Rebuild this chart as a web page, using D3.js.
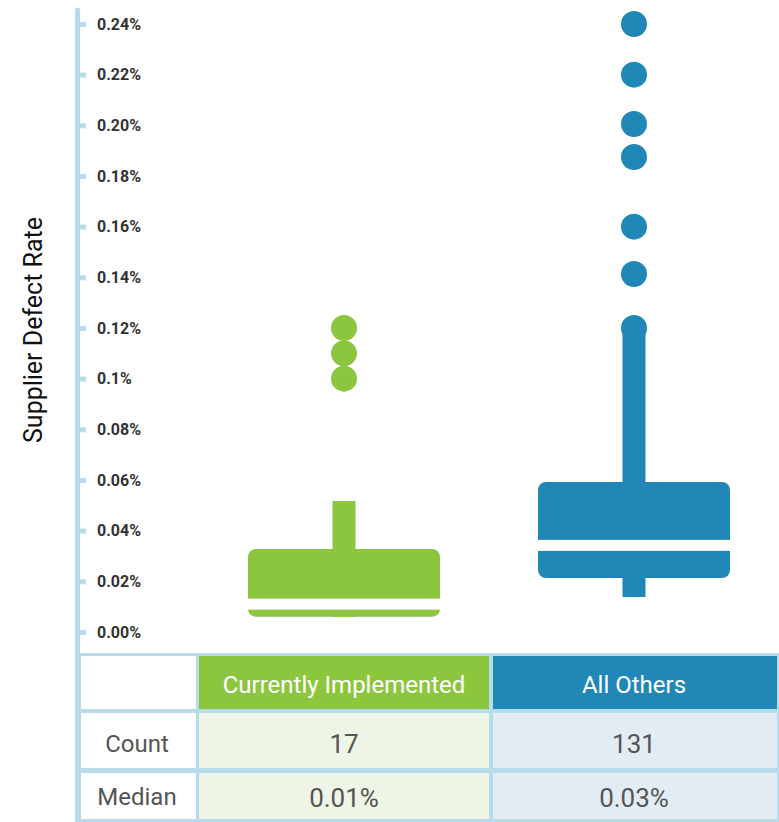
<!DOCTYPE html>
<html>
<head>
<meta charset="utf-8">
<script src="https://cdn.jsdelivr.net/npm/d3@7"></script>
<style>
  body { margin: 0; background: #fff; }
  svg { display: block; }
  .tick text { font-family: Roboto, "Liberation Sans", sans-serif; font-weight: bold; font-size: 16px; fill: #333; }
</style>
</head>
<body>
<svg id="chart" width="779" height="822"></svg>
<script>
// data (values in percent)
var categories = ["Currently Implemented", "All Others"];
var colors = ["#8cc63f", "#2087b7"];
var lightColors = ["#eef4e6", "#e3ebf3"];
var counts = ["17", "131"];
var medianLabels = ["0.01%", "0.03%"];
var whiskerLow = [0.006, 0.0138];
var q1 = [0.006, 0.0213];
var median = [0.011, 0.0342];
var q3 = [0.0328, 0.0592];
var whiskerHigh = [0.0517, 0.12];
var outliers = [
  [0.12, 0.11, 0.10],
  [0.24, 0.22, 0.2005, 0.1875, 0.160, 0.1413, 0.12]
];
var tickValues = [0, 0.02, 0.04, 0.06, 0.08, 0.10, 0.12, 0.14, 0.16, 0.18, 0.20, 0.22, 0.24];
var tickLabels = ["0.00%", "0.02%", "0.04%", "0.06%", "0.08%", "0.1%", "0.12%", "0.14%", "0.16%", "0.18%", "0.20%", "0.22%", "0.24%"];
var rowLabels = ["Count", "Median"];

var gridColor = "#b6dbea";
var svg = d3.select("#chart");

var y = d3.scaleLinear()
    .domain([0, 0.24])
    .range([632, 24]);

var x = d3.scaleBand()
    .domain(categories)
    .range([199, 779]);

// table
var tableTop = 653;
svg.append("rect")
    .attr("x", 78).attr("y", tableTop)
    .attr("width", 701).attr("height", 822 - tableTop)
    .attr("fill", gridColor);

var rows = [[656, 709], [713, 768], [773, 819]];
var firstCol = [81, 196];

rows.forEach(function(r, i) {
  svg.append("rect")
      .attr("x", firstCol[0]).attr("y", r[0])
      .attr("width", firstCol[1] - firstCol[0]).attr("height", r[1] - r[0])
      .attr("fill", "#fff");
  categories.forEach(function(c, j) {
    var x0 = x(c) + (j == 0 ? 0 : 4);
    var x1 = x(c) + x.bandwidth() - (j == 0 ? 0 : 2);
    svg.append("rect")
        .attr("x", x0).attr("y", r[0])
        .attr("width", x1 - x0).attr("height", r[1] - r[0])
        .attr("fill", i == 0 ? colors[j] : lightColors[j]);
  });
});

var cellFont = "Roboto, 'Liberation Sans', sans-serif";

svg.selectAll(".head")
    .data(categories)
  .enter().append("text")
    .attr("class", "head")
    .attr("x", function(d) { return x(d) + x.bandwidth() / 2; })
    .attr("y", 693)
    .attr("text-anchor", "middle")
    .attr("font-family", cellFont)
    .attr("font-size", 24)
    .attr("fill", "#fff")
    .text(function(d) { return d; });

svg.selectAll(".rowlab")
    .data(rowLabels)
  .enter().append("text")
    .attr("class", "rowlab")
    .attr("x", 137)
    .attr("y", function(d, i) { return i == 0 ? 752 : 805; })
    .attr("text-anchor", "middle")
    .attr("font-family", cellFont)
    .attr("font-size", 24)
    .attr("fill", "#555")
    .text(function(d) { return d; });

[counts, medianLabels].forEach(function(vals, i) {
  svg.selectAll(".val" + i)
      .data(vals)
    .enter().append("text")
      .attr("x", function(d, j) { return x(categories[j]) + x.bandwidth() / 2; })
      .attr("y", i == 0 ? 753 : 807)
      .attr("text-anchor", "middle")
      .attr("font-family", cellFont)
      .attr("font-size", 26)
      .attr("fill", "#555")
      .text(function(d) { return d; });
});

// axis
svg.append("line")
    .attr("x1", 77.5).attr("x2", 77.5)
    .attr("y1", 10).attr("y2", 822)
    .attr("stroke", gridColor)
    .attr("stroke-width", 5)
    .attr("stroke-linecap", "round");

var yAxis = d3.axisRight(y)
    .tickValues(tickValues)
    .tickSize(8)
    .tickPadding(11)
    .tickFormat(function(d, i) { return tickLabels[i]; });

var gAxis = svg.append("g")
    .attr("transform", "translate(78,0)")
    .call(yAxis);
gAxis.select(".domain").remove();
gAxis.selectAll(".tick line")
    .attr("stroke", gridColor)
    .attr("stroke-width", 5);

svg.append("text")
    .attr("transform", "translate(42,330) rotate(-90)")
    .attr("text-anchor", "middle")
    .attr("font-family", cellFont)
    .attr("font-size", 25)
    .attr("fill", "#111")
    .text("Supplier Defect Rate");

// boxes
var boxW = 192, whiskW = 23, r = 13;

var box = svg.selectAll(".box")
    .data(categories)
  .enter().append("g")
    .attr("class", "box")
    .attr("transform", function(d) { return "translate(" + (x(d) + x.bandwidth() / 2) + ",0)"; });

box.append("rect")
    .attr("x", -whiskW / 2)
    .attr("width", whiskW)
    .attr("y", function(d, i) { return y(whiskerHigh[i]); })
    .attr("height", function(d, i) { return y(whiskerLow[i]) - y(whiskerHigh[i]); })
    .attr("fill", function(d, i) { return colors[i]; });

box.append("rect")
    .attr("x", -boxW / 2)
    .attr("width", boxW)
    .attr("y", function(d, i) { return y(q3[i]); })
    .attr("height", function(d, i) { return y(q1[i]) - y(q3[i]); })
    .attr("rx", 8)
    .attr("fill", function(d, i) { return colors[i]; });

box.append("rect")
    .attr("x", -boxW / 2 - 1)
    .attr("width", boxW + 2)
    .attr("y", function(d, i) { return y(median[i]) - 5.5; })
    .attr("height", 11)
    .attr("fill", "#fff");

box.each(function(d, i) {
  d3.select(this).selectAll("circle")
      .data(outliers[i])
    .enter().append("circle")
      .attr("cy", function(v) { return y(v); })
      .attr("r", r)
      .attr("fill", colors[i]);
});
</script>
</body>
</html>
